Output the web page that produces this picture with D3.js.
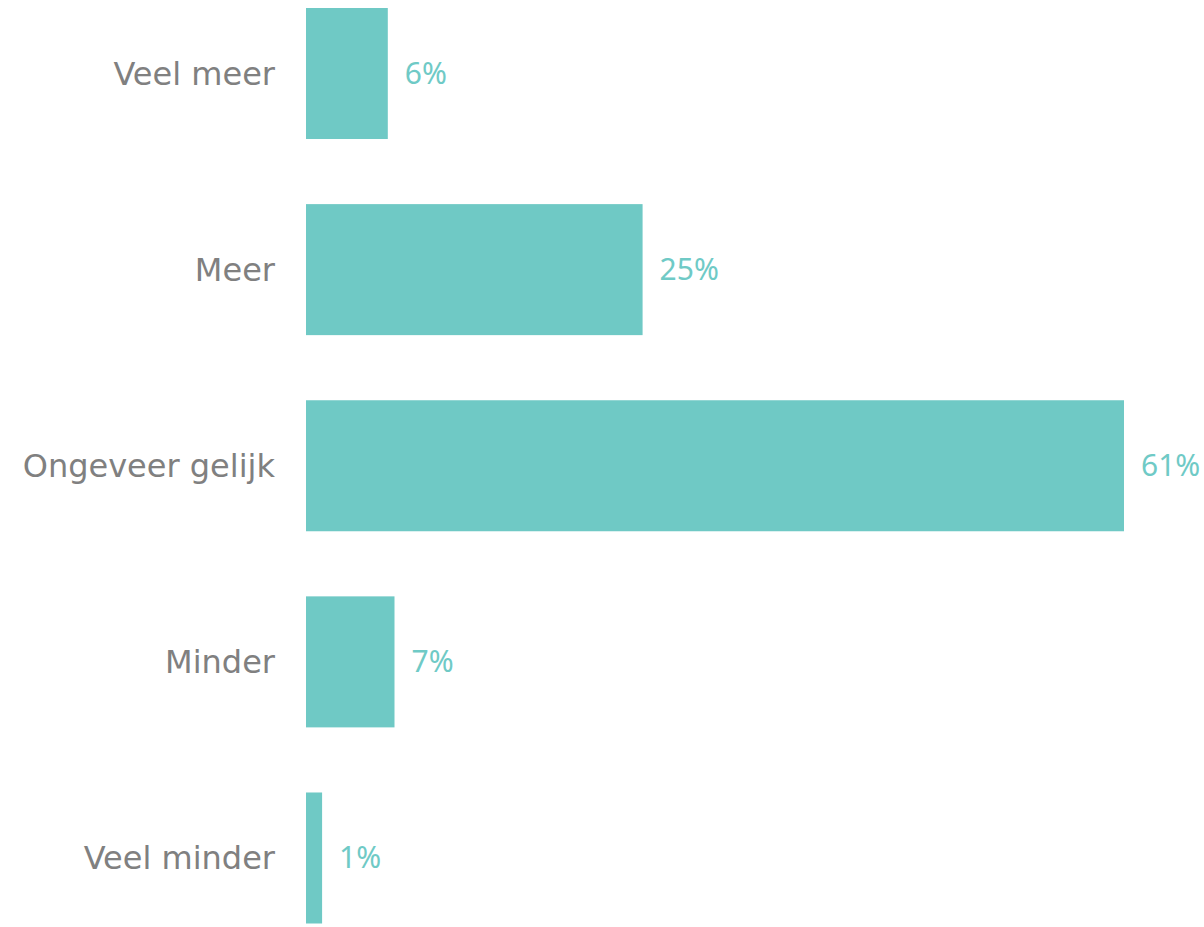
<!DOCTYPE html>
<html>
<head>
<meta charset="utf-8">
<script src="https://cdn.jsdelivr.net/npm/d3@7"></script>
<style>
  html, body { margin: 0; padding: 0; background: #ffffff; }
  svg { display: block; }
  text.val { font-family: "Noto Sans", "Open Sans", sans-serif; }
  text.cat { font-family: "DejaVu Sans", "Noto Sans", sans-serif; }
</style>
</head>
<body>
<svg id="chart" width="1204" height="927"></svg>
<script>
const categories = ["Veel meer", "Meer", "Ongeveer gelijk", "Minder", "Veel minder"];
const values = [6.1, 25.1, 61.0, 6.6, 1.2];
const valueLabels = ["6%", "25%", "61%", "7%", "1%"];

(function () {
const data = categories.map((c, i) => ({ cat: c, val: values[i], label: valueLabels[i] }));

const svg = d3.select("#chart");
const mLeft = 306, mTop = 8, mBottom = 923.5;

const x = d3.scaleLinear().domain([0, 61]).range([mLeft, 1124]);
const y = d3.scaleBand().domain(categories).range([mTop, mBottom]).paddingInner(0.332).paddingOuter(0);

svg.selectAll("rect.bar").data(data).enter().append("rect")
  .attr("class", "bar")
  .attr("x", x(0))
  .attr("y", d => y(d.cat))
  .attr("width", d => x(d.val) - x(0))
  .attr("height", y.bandwidth())
  .attr("fill", "#6fc9c5");

svg.selectAll("text.cat").data(data).enter().append("text")
  .attr("class", "cat")
  .attr("x", mLeft - 31)
  .attr("y", d => y(d.cat) + y.bandwidth() / 2)
  .attr("dy", "0.35em")
  .attr("text-anchor", "end")
  .attr("font-size", 32)
  .attr("fill", "#808080")
  .text(d => d.cat);

svg.selectAll("text.val").data(data).enter().append("text")
  .attr("class", "val")
  .attr("x", d => x(d.val) + 17)
  .attr("y", d => y(d.cat) + y.bandwidth() / 2)
  .attr("dy", "0.35em")
  .attr("text-anchor", "start")
  .attr("font-size", 30)
  .attr("fill", "#6fcac6")
  .text(d => d.label);
})();
</script>
</body>
</html>
